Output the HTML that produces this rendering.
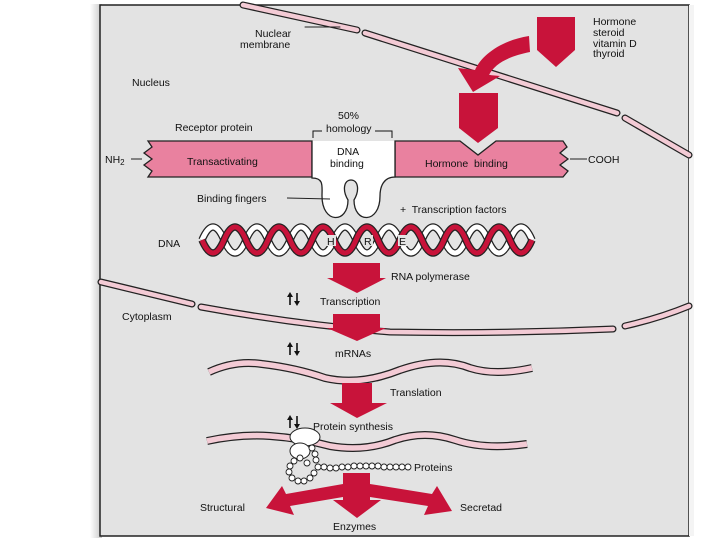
<!DOCTYPE html>
<html><head><meta charset="utf-8"><style>
html,body{margin:0;padding:0;background:#fff;}
svg{display:block;}
text{font-family:"Liberation Sans",sans-serif;font-size:10.5px;fill:#111;}
</style></head><body>
<svg width="720" height="540" viewBox="0 0 720 540" xmlns="http://www.w3.org/2000/svg">
<defs>
<linearGradient id="sh" x1="0" x2="1"><stop offset="0" stop-color="#fff"/><stop offset="1" stop-color="#c8c8c8"/></linearGradient>
<g id="ud"><path d="M0,12 V3 M7,0 V9" stroke="#111" stroke-width="1.6"/><path d="M-3,4 L0,-1 L3,4 Z M4,8 L7,13 L10,8 Z" fill="#111"/></g>
</defs>
<rect x="0" y="0" width="720" height="540" fill="#fff"/>
<rect x="90" y="4" width="12" height="534" fill="url(#sh)"/>
<rect x="100" y="5" width="589" height="531" fill="#e3e3e3" stroke="#222" stroke-width="1.5"/>
<rect x="689" y="5" width="5" height="531" fill="#f4f4f4"/>

<g fill="none" stroke-linecap="round">
<path d="M243,5 L357,30 M365,33 L617,113 M625,118 L689,155" stroke="#222" stroke-width="7"/>
<path d="M243,5 L357,30 M365,33 L617,113 M625,118 L689,155" stroke="#f3cbd5" stroke-width="4.5"/>
<path d="M101,282 L192,304 M201,307 Q300,325 390,332 Q500,334 613,329 M625,326 Q660,318 689,306" stroke="#222" stroke-width="7"/>
<path d="M101,282 L192,304 M201,307 Q300,325 390,332 Q500,334 613,329 M625,326 Q660,318 689,306" stroke="#f3cbd5" stroke-width="4.5"/>
<path d="M209,372 Q235,360 262,364 Q296,368 325,378 Q360,386 400,370 Q440,356 470,368 Q495,376 532,368" stroke="#222" stroke-width="8" stroke-linecap="butt"/>
<path d="M209,372 Q235,360 262,364 Q296,368 325,378 Q360,386 400,370 Q440,356 470,368 Q495,376 532,368" stroke="#f3cbd5" stroke-width="5.5" stroke-linecap="butt"/>
<path d="M207,441 Q240,434 270,436 Q300,438 330,446 Q365,452 395,440 Q425,430 455,440 Q485,450 527,444" stroke="#222" stroke-width="8" stroke-linecap="butt"/>
<path d="M207,441 Q240,434 270,436 Q300,438 330,446 Q365,452 395,440 Q425,430 455,440 Q485,450 527,444" stroke="#f3cbd5" stroke-width="5.5" stroke-linecap="butt"/>
<path d="M305,27 L340,27" stroke="#222" stroke-width="1"/>
</g>

<path d="M537,17 H575 V50 L556,67 L537,50 Z" fill="#c8133a"/>
<path d="M529,36 C503,40 482,54 475,70 L458,68 L473,92 L500,76 L489,75 C495,63 510,56 530,52 Z" fill="#c8133a"/>
<path d="M459,93 H498 V128 L478,143 L459,128 Z" fill="#c8133a"/>
<text x="593" y="25">Hormone</text>
<text x="593" y="36">steroid</text>
<text x="593" y="47">vitamin D</text>
<text x="593" y="57">thyroid</text>
<text x="255" y="37">Nuclear</text>
<text x="240" y="48">membrane</text>
<text x="132" y="86">Nucleus</text>

<text x="175" y="131">Receptor protein</text>
<text x="338" y="119">50%</text>
<text x="326" y="132">homology</text>
<path d="M313,138 V131 H322 M375,131 H392 V138" fill="none" stroke="#111" stroke-width="1"/>
<path d="M312,141 L148,141 L152,147 L144,153 L152,159 L144,165 L152,171 L148,177 L312,177 Z" fill="#e9819f" stroke="#222" stroke-width="1.3"/>
<path d="M395,141 L460,141 L478,155 L496,141 L563,141 L567,147 L560,153 L568,159 L560,165 L568,171 L563,177 L395,177 Z" fill="#e9819f" stroke="#222" stroke-width="1.3"/>
<path d="M312,141 H395 V177 C384,178 380,186 380,196 C380,224 354,224 354,200 C360,190 358,180 351,180 C344,180 342,190 348,200 C348,224 322,224 322,196 C322,186 322,178 312,178 Z" fill="#fff"/>
<path d="M312,141 V178 C324,178 322,186 322,196 C322,224 348,224 348,200 C342,190 344,180 351,180 C358,180 360,190 354,200 C354,224 380,224 380,196 C380,186 384,177 395,177 V141" fill="none" stroke="#222" stroke-width="1.3"/>
<text x="187" y="165">Transactivating</text>
<text x="337" y="155">DNA</text>
<text x="330" y="167">binding</text>
<text x="425" y="167">Hormone&#160; binding</text>
<text x="105" y="163">NH<tspan font-size="8" dy="2">2</tspan></text>
<path d="M131,159 H142 M570,159 H587" stroke="#222" stroke-width="1"/>
<text x="588" y="163">COOH</text>
<text x="197" y="202">Binding fingers</text>
<path d="M287,198 L330,199" stroke="#222" stroke-width="1"/>
<text x="400" y="213">+&#160; Transcription factors</text>

<text x="158" y="247">DNA</text>
<g fill="none">
<path d="M202,240 Q213,214 224,240 T246,240 T268,240 T290,240 T312,240 T334,240 T356,240 T378,240 T400,240 T422,240 T444,240 T466,240 T488,240 T510,240 T532,240" stroke="#222" stroke-width="7.5"/>
<path d="M202,240 Q213,214 224,240 T246,240 T268,240 T290,240 T312,240 T334,240 T356,240 T378,240 T400,240 T422,240 T444,240 T466,240 T488,240 T510,240 T532,240" stroke="#fff" stroke-width="5"/>
<path d="M202,240 Q213,266 224,240 T246,240 T268,240 T290,240 T312,240 T334,240 T356,240 T378,240 T400,240 T422,240 T444,240 T466,240 T488,240 T510,240 T532,240" stroke="#222" stroke-width="7.5"/>
<path d="M202,240 Q213,266 224,240 T246,240 T268,240 T290,240 T312,240 T334,240 T356,240 T378,240 T400,240 T422,240 T444,240 T466,240 T488,240 T510,240 T532,240" stroke="#c8133a" stroke-width="5"/>
</g>
<rect x="326" y="235" width="10" height="11" fill="#e3e3e3"/><text x="327" y="245" font-size="9.5">H</text>
<rect x="363" y="235" width="10" height="11" fill="#e3e3e3"/><text x="364" y="245" font-size="9.5">R</text>
<rect x="398" y="235" width="10" height="11" fill="#e3e3e3"/><text x="399" y="245" font-size="9.5">E</text>

<path d="M333,263 H380 V278 H386 L357,293 L327,278 H333 Z" fill="#c8133a"/>
<path d="M333,314 H380 V328 H386 L357,341 L327,328 H333 Z" fill="#c8133a"/>
<path d="M342,383 H372 V403 H387 L357,418 L330,403 H342 Z" fill="#c8133a"/>
<text x="391" y="280">RNA polymerase</text>
<text x="320" y="305">Transcription</text>
<text x="122" y="320">Cytoplasm</text>
<text x="335" y="357">mRNAs</text>
<text x="390" y="396">Translation</text>
<text x="313" y="430">Protein synthesis</text>
<use href="#ud" x="290" y="293"/>
<use href="#ud" x="290" y="343"/>
<use href="#ud" x="290" y="416"/>

<ellipse cx="305" cy="437" rx="15" ry="9" fill="#fff" stroke="#222"/>
<ellipse cx="300" cy="451" rx="10" ry="8" fill="#fff" stroke="#222"/>
<g fill="#fff" stroke="#222" stroke-width="0.9">
<circle cx="312" cy="448" r="3"/><circle cx="315" cy="454" r="3"/><circle cx="316" cy="460" r="3"/>
<circle cx="300" cy="458" r="3"/><circle cx="294" cy="461" r="3"/><circle cx="290" cy="466" r="3"/><circle cx="289" cy="472" r="3"/><circle cx="292" cy="478" r="3"/><circle cx="298" cy="481" r="3"/><circle cx="304" cy="481" r="3"/><circle cx="310" cy="478" r="3"/><circle cx="314" cy="473" r="3"/><circle cx="318" cy="467" r="3"/><circle cx="307" cy="463" r="3"/>
<circle cx="324" cy="467" r="3"/><circle cx="330" cy="468" r="3"/><circle cx="336" cy="468" r="3"/><circle cx="342" cy="467" r="3"/><circle cx="348" cy="467" r="3"/><circle cx="354" cy="466" r="3"/><circle cx="360" cy="466" r="3"/><circle cx="366" cy="466" r="3"/><circle cx="372" cy="466" r="3"/><circle cx="378" cy="466" r="3"/><circle cx="384" cy="467" r="3"/><circle cx="390" cy="467" r="3"/><circle cx="396" cy="467" r="3"/><circle cx="402" cy="467" r="3"/><circle cx="408" cy="467" r="3"/>
</g>
<text x="414" y="471">Proteins</text>

<path d="M343,473 H370 L370,484 L432,494 L437,486 L452,511 L424,515 L428,506 L370,497 V500 H381 L357,518 L333,500 H343 V497 L290,506 L294,515 L266,508 L282,486 L286,494 L343,484 Z" fill="#c8133a"/>
<text x="200" y="511">Structural</text>
<text x="460" y="511">Secretad</text>
<text x="333" y="530">Enzymes</text>
</svg>
</body></html>
